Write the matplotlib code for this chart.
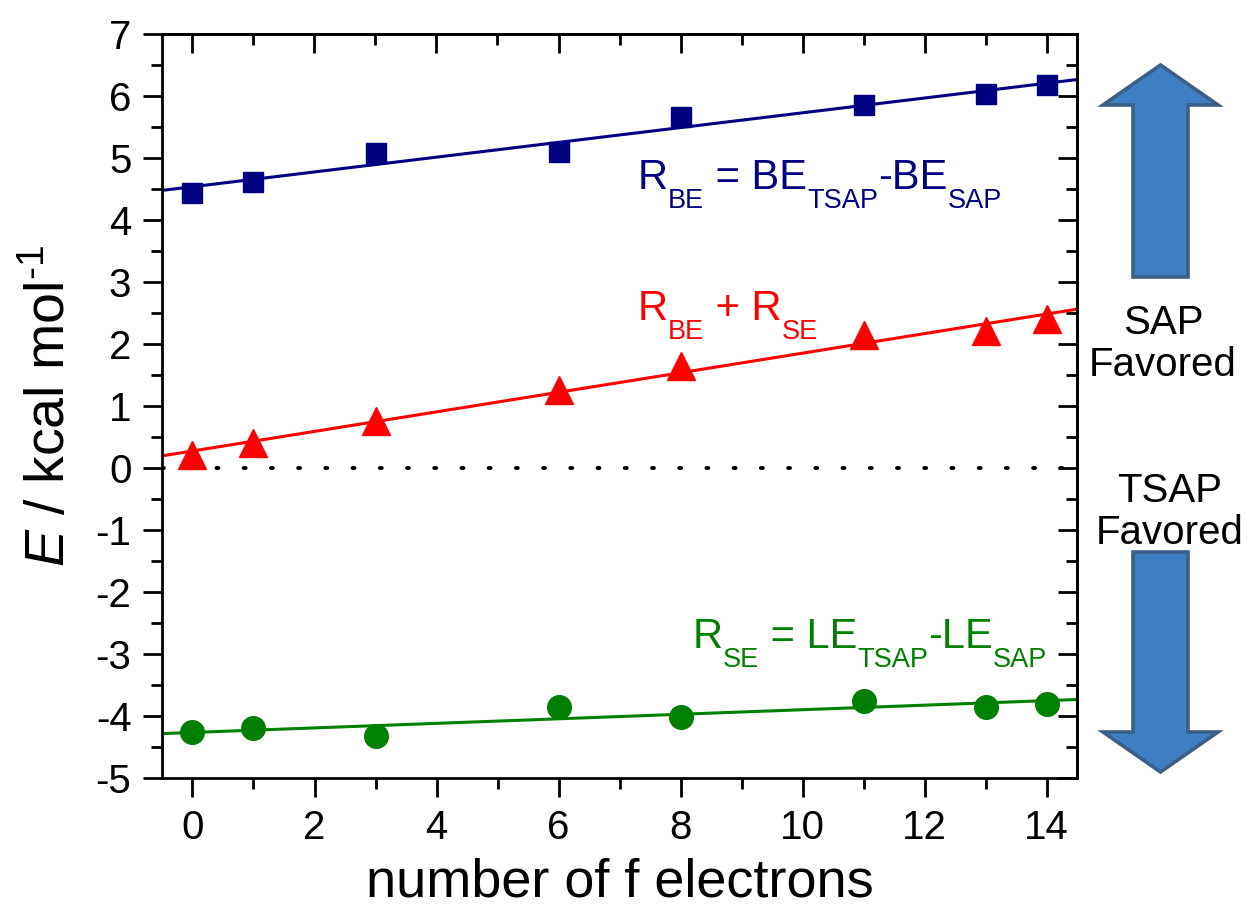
import matplotlib
matplotlib.use("Agg")
import matplotlib.pyplot as plt
import matplotlib.transforms as mtransforms
import numpy as np
from matplotlib.patches import FancyArrow
from matplotlib.ticker import MultipleLocator

# data
n_f = [0, 1, 3, 6, 8, 11, 13, 14]
r_be = [4.44, 4.62, 5.08, 5.10, 5.66, 5.86, 6.03, 6.18]
r_sum = [0.21, 0.40, 0.75, 1.26, 1.65, 2.15, 2.21, 2.40]
r_se = [-4.26, -4.20, -4.33, -3.86, -4.02, -3.75, -3.85, -3.80]

series = [
    (r_be, "#000080", "s", 14),
    (r_sum, "#ff0000", "^", 20),
    (r_se, "#008000", "o", 17),
]

# label pieces: (text, is_subscript)
lbl_be = [("R", False), ("BE", True), (" = BE", False), ("TSAP", True), ("-BE", False), ("SAP", True)]
lbl_sum = [("R", False), ("BE", True), (" + R", False), ("SE", True)]
lbl_se = [("R", False), ("SE", True), (" = LE", False), ("TSAP", True), ("-LE", False), ("SAP", True)]

plt.rcParams["font.family"] = ["Liberation Sans", "DejaVu Sans"]
plt.rcParams["mathtext.fontset"] = "custom"
plt.rcParams["mathtext.rm"] = "Liberation Sans"
plt.rcParams["mathtext.it"] = "Liberation Sans:italic"
plt.rcParams["mathtext.sf"] = "Liberation Sans"
plt.rcParams["axes.unicode_minus"] = False

fig = plt.figure(figsize=(12.49, 9.18), dpi=100)
ax = fig.add_axes([162 / 1249, 1 - 778 / 918, (1077 - 162) / 1249, (778 - 34) / 918])
renderer = fig.canvas.get_renderer()


def rich_text(x, y, parts, color, size=30, sub_scale=0.65, sub_drop=0.45):
    """Write text with big, low subscripts piece by piece, like the original."""
    dx = 0.0
    for s, sub in parts:
        fs = size * sub_scale if sub else size
        dy = -size * sub_drop if sub else 0.0
        tr = mtransforms.offset_copy(ax.transData, fig=fig, x=dx, y=dy, units="points")
        t = ax.text(x, y, s, color=color, fontsize=fs, ha="left", va="baseline", transform=tr)
        dx += t.get_window_extent(renderer).width * 72 / fig.dpi


xlim = (-0.5, 14.5)
xfit = np.array(xlim)
for y, col, mk, ms in series:
    k, b = np.polyfit(n_f, y, 1)
    ax.plot(xfit, k * xfit + b, color=col, lw=2.2, zorder=2)
    ax.plot(n_f, y, ls="none", marker=mk, ms=ms, color=col, mec=col, zorder=3)

ax.axhline(0, color="black", lw=2.8, ls=(0, (0.5, 6.5)), dash_capstyle="round", zorder=1)

ax.set_xlim(*xlim)
ax.set_ylim(-5, 7)
ax.xaxis.set_major_locator(MultipleLocator(2))
ax.xaxis.set_minor_locator(MultipleLocator(1))
ax.yaxis.set_major_locator(MultipleLocator(1))
ax.yaxis.set_minor_locator(MultipleLocator(0.5))
ax.tick_params(which="major", direction="out", length=14, width=2, labelsize=29, pad=8)
ax.tick_params(which="minor", direction="out", length=8, width=2)
for s in ax.spines.values():
    s.set_linewidth(2)

# mirrored ticks on top/right, pointing inward
top = ax.secondary_xaxis("top")
top.xaxis.set_major_locator(MultipleLocator(2))
top.xaxis.set_minor_locator(MultipleLocator(1))
top.tick_params(which="major", direction="in", length=14, width=2, labeltop=False)
top.tick_params(which="minor", direction="in", length=8, width=2)
right = ax.secondary_yaxis("right")
right.yaxis.set_major_locator(MultipleLocator(1))
right.yaxis.set_minor_locator(MultipleLocator(0.5))
right.tick_params(which="major", direction="in", length=14, width=2, labelright=False)
right.tick_params(which="minor", direction="in", length=8, width=2)
for sec in (top, right):
    for s in sec.spines.values():
        s.set_linewidth(2)

ax.set_xlabel("number of f electrons", fontsize=39, labelpad=8)
ax.set_ylabel(r"$\mathit{E}$ / kcal mol$^{\text{-1}}$", fontsize=40, labelpad=14)

rich_text(7.3, 4.5, lbl_be, "#000080")
rich_text(7.3, 2.39, lbl_sum, "#ff0000")
rich_text(8.2, -2.9, lbl_se, "#008000")

# side arrows and captions (figure inches, 100 px per inch)
tr = fig.dpi_scale_trans
arrow_kw = dict(width=0.55, head_width=1.15, head_length=0.40, length_includes_head=True,
                facecolor="#3f7fc3", edgecolor="#3b5f86", lw=2.6, transform=tr)
fig.add_artist(FancyArrow(11.605, (918 - 277) / 100, 0, (277 - 65) / 100, **arrow_kw))
fig.add_artist(FancyArrow(11.605, (918 - 552) / 100, 0, -(772 - 552) / 100, **arrow_kw))

fig.text(11.63, (918 - 344) / 100, "SAP\nFavored", transform=tr, fontsize=29,
         ha="center", va="center", linespacing=1.15)
fig.text(11.70, (918 - 512) / 100, "TSAP\nFavored", transform=tr, fontsize=29,
         ha="center", va="center", linespacing=1.15)

fig.savefig("out.png", dpi=100)
